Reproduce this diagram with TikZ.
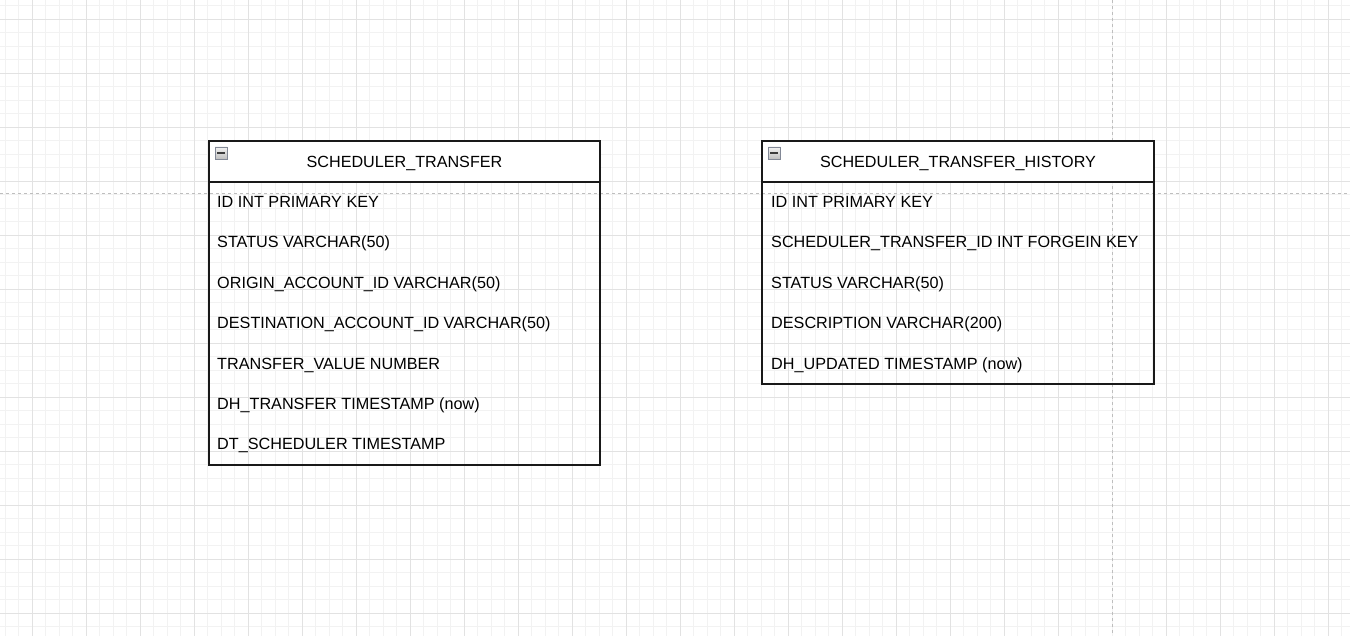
\documentclass[tikz,border=0pt]{standalone}
\usepackage{fontspec}
\setmainfont{Liberation Sans}
\definecolor{gridminor}{RGB}{242,242,242}
\definecolor{gridmajor}{RGB}{226,226,226}
\definecolor{pagebrk}{RGB}{190,190,190}
\definecolor{iconborder}{RGB}{130,136,150}
\definecolor{icondash}{RGB}{60,60,60}
\tikzset{
  minorline/.style={draw=gridminor, line width=1bp},
  majorline/.style={draw=gridmajor, line width=1bp},
  pagebreak/.style={draw=pagebrk, line width=1bp, dash pattern=on 3bp off 3bp},
  tblbody/.style={draw=black!90, line width=1.2bp, inner sep=0pt, outer sep=0pt, anchor=north west},
  tblhead/.style={draw=black!90, fill=white, line width=1.2bp, inner sep=0pt, outer sep=0pt, anchor=north west},
  title/.style={anchor=base, inner sep=0pt, font=\fontsize{16.15bp}{19bp}\selectfont},
  field/.style={anchor=base west, inner sep=0pt, font=\fontsize{16.2bp}{19bp}\selectfont},
  iconbox/.style={draw=iconborder, line width=0.9bp, top color=white!90!gray, bottom color=gray!50, minimum size=12bp, inner sep=0pt},
}
\newcommand{\icondashglyph}{\textcolor{icondash}{\rule{8bp}{2.2bp}}}
\begin{document}
\begin{tikzpicture}[x=1bp,y=-1bp]
\useasboundingbox (0,0) rectangle (1350,636);
\fill[white] (0,0) rectangle (1350,636);
% grid
\foreach \i in {0,...,99} \draw[minorline] ({5.3+13.5*\i},0) -- ({5.3+13.5*\i},636);
\foreach \i in {0,...,46} \draw[minorline] (0,{5.8+13.5*\i}) -- (1350,{5.8+13.5*\i});
\foreach \j in {0,...,19,21,22,23,24} \draw[majorline] ({32.3+54*\j},0) -- ({32.3+54*\j},636);
\foreach \j in {0,...,11} \draw[majorline] (0,{19.3+54*\j}) -- (1350,{19.3+54*\j});
% page breaks
\draw[pagebreak] (1112.5,0) -- (1112.5,636);
\draw[pagebreak] (0,193.5) -- (1350,193.5);

% table 1
\node[tblbody, minimum width=391bp, minimum height=283bp] (t1body) at (209,182) {};
\node[tblhead, minimum width=391bp, minimum height=41bp] (t1head) at (209,141) {};
\node[iconbox] (t1icon) at (221,153) {\icondashglyph};
\node[title] (t1title) at (404.5,167.6) {SCHEDULER\_TRANSFER};
\node[field] (t1f1) at (217,207.5) {ID INT PRIMARY KEY};
\node[field] (t1f2) at (217,247.9) {STATUS VARCHAR(50)};
\node[field] (t1f3) at (217,288.3) {ORIGIN\_ACCOUNT\_ID VARCHAR(50)};
\node[field] (t1f4) at (217,328.7) {DESTINATION\_ACCOUNT\_ID VARCHAR(50)};
\node[field] (t1f5) at (217,369.1) {TRANSFER\_VALUE NUMBER};
\node[field] (t1f6) at (217,409.5) {DH\_TRANSFER TIMESTAMP (now)};
\node[field] (t1f7) at (217,449.9) {DT\_SCHEDULER TIMESTAMP};

% table 2
\node[tblbody, minimum width=392bp, minimum height=202bp] (t2body) at (762,182) {};
\node[tblhead, minimum width=392bp, minimum height=41bp] (t2head) at (762,141) {};
\node[iconbox] (t2icon) at (774.3,153) {\icondashglyph};
\node[title] (t2title) at (958,167.6) {SCHEDULER\_TRANSFER\_HISTORY};
\node[field] (t2f1) at (771,207.5) {ID INT PRIMARY KEY};
\node[field] (t2f2) at (771,247.9) {SCHEDULER\_TRANSFER\_ID INT FORGEIN KEY};
\node[field] (t2f3) at (771,288.3) {STATUS VARCHAR(50)};
\node[field] (t2f4) at (771,328.7) {DESCRIPTION VARCHAR(200)};
\node[field] (t2f5) at (771,369.1) {DH\_UPDATED TIMESTAMP (now)};
\end{tikzpicture}
\end{document}
